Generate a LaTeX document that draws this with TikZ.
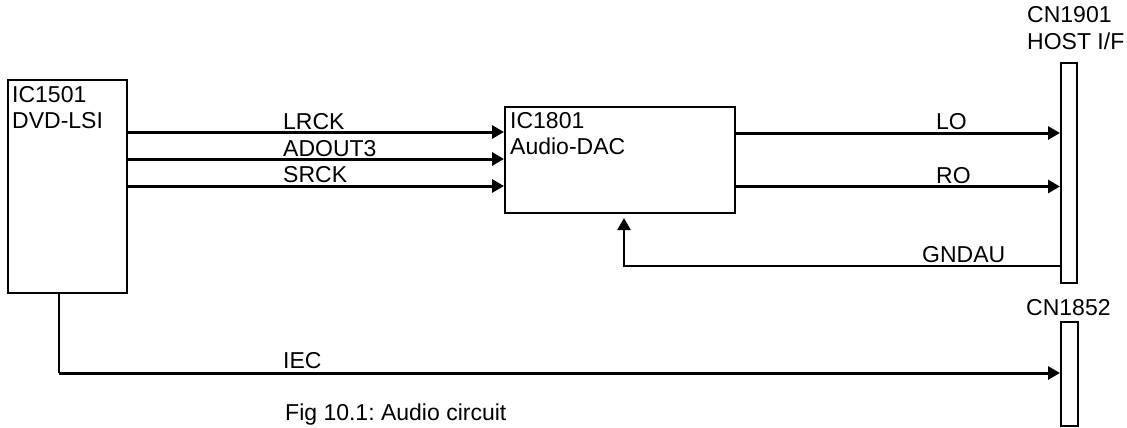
\documentclass[tikz,border=0pt]{standalone}
\usepackage{fontspec}
\setmainfont{Liberation Sans}
\usetikzlibrary{arrows.meta}
\frenchspacing
\begin{document}
\begin{tikzpicture}[x=1pt,y=-1pt,
  blk/.style={draw, line width=1.8pt, inner sep=0pt, anchor=north west},
  lbl/.style={anchor=base west, inner sep=0pt, font=\fontsize{23}{27}\selectfont},
  sig/.style={line width=3pt, -{Triangle[length=12pt,width=13pt]}},
  gnd/.style={line width=2.2pt, -{Triangle[length=12pt,width=13pt]}},
  wire/.style={line width=1.3pt}]
\useasboundingbox (0,0) rectangle (1127,428);
% blocks
\node[blk, minimum width=119pt, minimum height=213pt] (ic1501) at (7,79) {};
\node[blk, minimum width=230pt, minimum height=106pt] (ic1801) at (504,106) {};
\node[blk, minimum width=16pt, minimum height=220pt] (cn1901) at (1060,62) {};
\node[blk, minimum width=17pt, minimum height=104pt] (cn1852) at (1060,321) {};
% texts
\node[lbl] (t1501a) at (12,102) {IC1501};
\node[lbl] (t1501b) at (12,128) {DVD-LSI};
\node[lbl] (t1801a) at (510,128) {IC1801};
\node[lbl] (t1801b) at (510,154) {Audio-DAC};
\node[lbl] (t1901a) at (1027,23) {CN1901};
\node[lbl] (t1901b) at (1027,49) {HOST I/F};
\node[lbl] (t1852) at (1026,315) {CN1852};
\node[lbl] (lrck) at (283,129) {LRCK};
\node[lbl] (adout) at (283,156) {ADOUT3};
\node[lbl] (srck) at (283,182) {SRCK};
\node[lbl] (lo) at (936,129) {LO};
\node[lbl] (ro) at (936,183) {RO};
\node[lbl] (gndau) at (922,262) {GNDAU};
\node[lbl] (iec) at (283,368) {IEC};
\node[lbl] (cap) at (285,420) {Fig 10.1: Audio circuit};
% levels
\coordinate (yL) at (0,132);
\coordinate (yA) at (0,159);
\coordinate (yS) at (0,186);
\coordinate (yLO) at (0,133);
\coordinate (yRO) at (0,186.5);
\coordinate (yG) at (0,266);
\coordinate (gtip) at (624,218);
\coordinate (iecc) at (59,373);
% connectors
\draw[sig] (ic1501.east |- yL) -- (ic1801.west |- yL);
\draw[sig] (ic1501.east |- yA) -- (ic1801.west |- yA);
\draw[sig] (ic1501.east |- yS) -- (ic1801.west |- yS);
\draw[sig] (ic1801.east |- yLO) -- (cn1901.west |- yLO);
\draw[sig] (ic1801.east |- yRO) -- (cn1901.west |- yRO);
\draw[gnd] (cn1901.west |- yG) -| (gtip);
\draw[wire] (iecc |- ic1501.south) -- (iecc);
\draw[sig] (iecc) -- (cn1852.west |- iecc);
\end{tikzpicture}
\end{document}
